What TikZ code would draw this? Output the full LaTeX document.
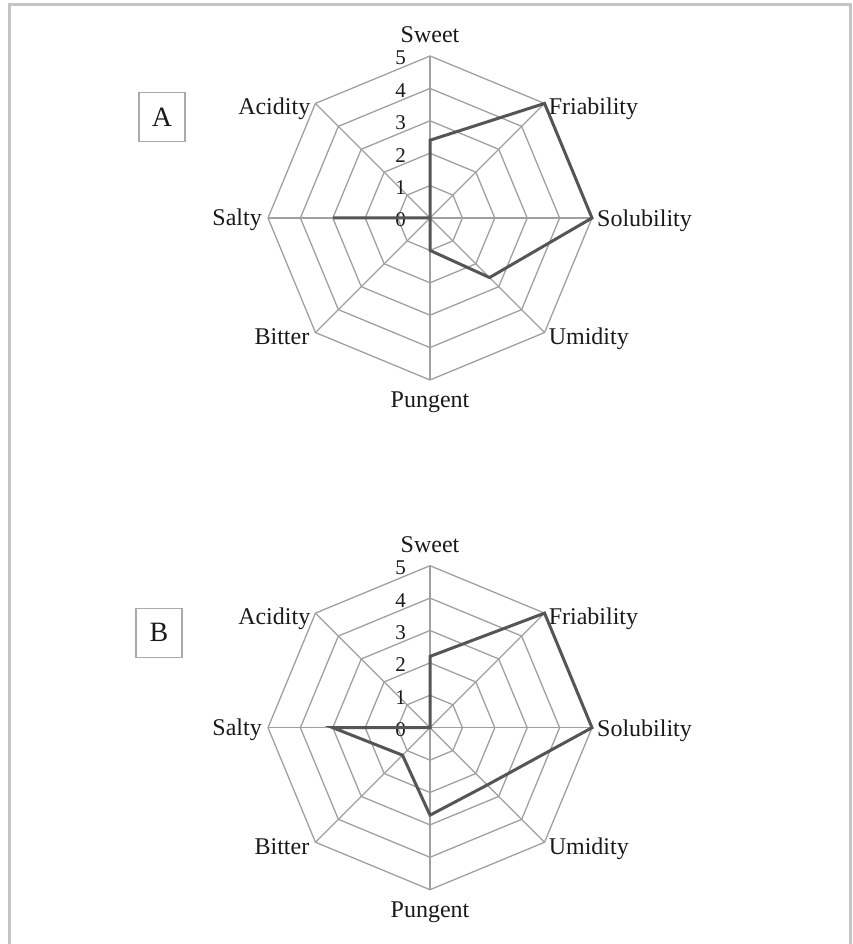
\documentclass[tikz,border=0pt]{standalone}
\usepackage{fontspec}
\setmainfont{Liberation Serif}
\definecolor{gridgray}{HTML}{A0A0A0}
\definecolor{datagray}{HTML}{555555}
\definecolor{framegray}{HTML}{C4C4C8}
\definecolor{boxgray}{HTML}{AAAAAA}
\definecolor{txt}{HTML}{1A1A1A}
\newcommand\spiderunit{32.4}
\newcommand\spidergrid[1]{%
  \foreach \k in {1,...,5}{%
    \draw[gridline] (90:\k*\spiderunit) -- (45:\k*\spiderunit) -- (0:\k*\spiderunit) -- (-45:\k*\spiderunit) -- (-90:\k*\spiderunit) -- (-135:\k*\spiderunit) -- (180:\k*\spiderunit) -- (135:\k*\spiderunit) -- cycle;}
  \coordinate (#1-o) at (0,0);
  \foreach \a/\n in {90/1,45/2,0/3,-45/4,-90/5,-135/6,180/7,135/8}{%
    \coordinate (#1-v\n) at (\a:5*\spiderunit);
    \draw[gridline] (#1-o) -- (#1-v\n);}
  \foreach \k in {0,...,5}{%
    \node[ticklabel] (#1-t\k) at (-24,\k*\spiderunit-2) {\k};}
  \node[axlabel, anchor=base] (#1-Sweet) at ([yshift=13.4]#1-v1) {Sweet};
  \node[axlabel, anchor=base west] (#1-Friability) at ([xshift=4,yshift=-11]#1-v2) {Friability};
  \node[axlabel, anchor=base west] (#1-Solubility) at ([xshift=5,yshift=-9]#1-v3) {Solubility};
  \node[axlabel, anchor=base west] (#1-Umidity) at ([xshift=4,yshift=-12]#1-v4) {Umidity};
  \node[axlabel, anchor=base] (#1-Pungent) at ([yshift=-27.6]#1-v5) {Pungent};
  \node[axlabel, anchor=base east] (#1-Bitter) at ([xshift=-6,yshift=-12]#1-v6) {Bitter};
  \node[axlabel, anchor=base east] (#1-Salty) at ([xshift=-6,yshift=-8]#1-v7) {Salty};
  \node[axlabel, anchor=base east] (#1-Acidity) at ([xshift=-5,yshift=-11]#1-v8) {Acidity};
}
\newcommand\spiderdata[9]{%
  \coordinate (#1-d1) at (90:#2*\spiderunit);
  \coordinate (#1-d2) at (45:#3*\spiderunit);
  \coordinate (#1-d3) at (0:#4*\spiderunit);
  \coordinate (#1-d4) at (-45:#5*\spiderunit);
  \coordinate (#1-d5) at (-90:#6*\spiderunit);
  \coordinate (#1-d6) at (-135:#7*\spiderunit);
  \coordinate (#1-d7) at (180:#8*\spiderunit);
  \coordinate (#1-d8) at (135:#9*\spiderunit);
  \draw[series] (#1-d1) -- (#1-d2) -- (#1-d3) -- (#1-d4) -- (#1-d5) -- (#1-d6) -- (#1-d7) -- (#1-d8) -- cycle;
}
\begin{document}
\begin{tikzpicture}[x=1pt,y=1pt,
  gridline/.style={draw=gridgray, line width=1.3pt},
  series/.style={draw=datagray, line width=3pt, line join=miter},
  axlabel/.style={font=\fontsize{24}{28}\selectfont, inner sep=0pt, text=txt},
  ticklabel/.style={font=\fontsize{21}{24}\selectfont, inner sep=0pt, anchor=east, text=txt},
  tagbox/.style={draw=boxgray, line width=1.3pt, minimum width=46pt, minimum height=49pt, inner sep=0pt, font=\fontsize{28}{32}\selectfont, text=txt},
  frameline/.style={draw=framegray, line width=3pt}
]
\useasboundingbox (0,0) rectangle (852,944);
\fill[white] (0,0) rectangle (852,944);
\coordinate (fbl) at (9.5,0);
\coordinate (ftl) at (9.5,939);
\coordinate (ftr) at (850,939);
\coordinate (fbr) at (850,0);
\draw[frameline] (fbl) -- (ftl) -- (ftr) -- (fbr);

\begin{scope}[shift={(430,726)}]
  \spidergrid{A}
  \spiderdata{A}{2.4}{5}{5}{2.6}{1}{0}{3}{0}
\end{scope}
\begin{scope}[shift={(430,216.3)}]
  \spidergrid{B}
  \spiderdata{B}{2.2}{5}{5}{2.5}{2.7}{1.2}{3}{0}
\end{scope}

\node[tagbox] (tagA) at (162,826.7) {A};
\node[tagbox] (tagB) at (159,311.3) {B};
\end{tikzpicture}
\end{document}
